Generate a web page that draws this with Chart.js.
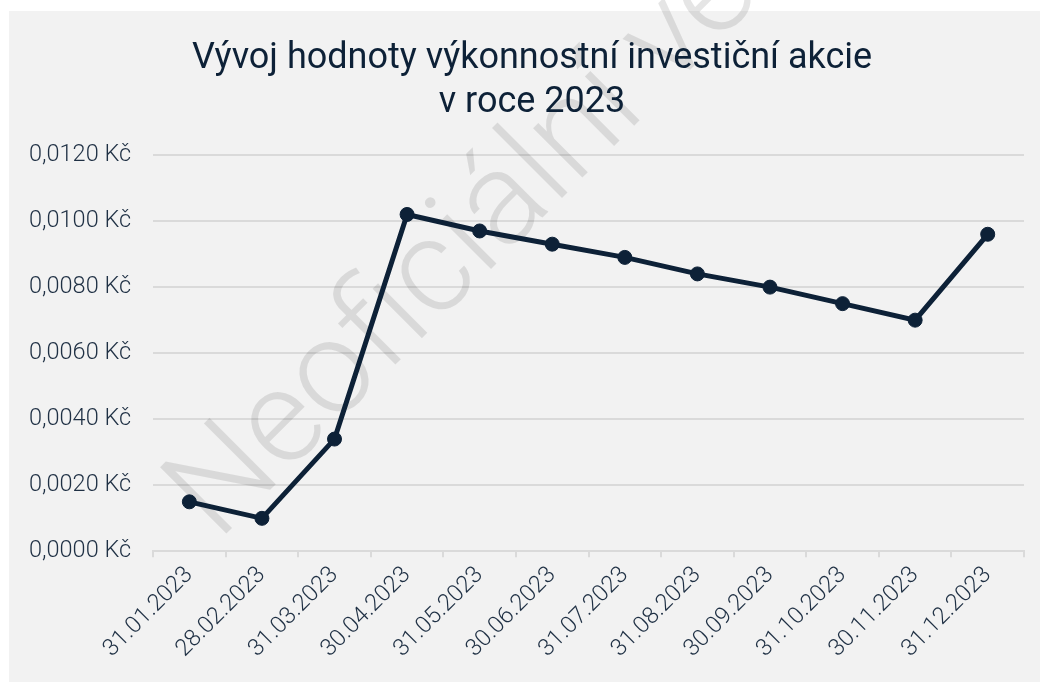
<!DOCTYPE html>
<html>
<head>
<meta charset="utf-8">
<script src="https://cdn.jsdelivr.net/npm/chart.js@4.4.0/dist/chart.umd.min.js"></script>
<style>
  html, body { margin: 0; padding: 0; background: #ffffff; }
  #wrap { position: relative; width: 1040px; height: 682px; }
</style>
</head>
<body>
<div id="wrap"><canvas id="c" width="1040" height="682"></canvas></div>
<script>
const categories = ['31.01.2023', '28.02.2023', '31.03.2023', '30.04.2023', '31.05.2023', '30.06.2023',
                    '31.07.2023', '31.08.2023', '30.09.2023', '31.10.2023', '30.11.2023', '31.12.2023'];
const values = [0.0015, 0.0010, 0.0034, 0.0102, 0.0097, 0.0093, 0.0089, 0.0084, 0.0080, 0.0075, 0.0070, 0.0096];
const yTickLabels = ['0,0000 Kč', '0,0020 Kč', '0,0040 Kč', '0,0060 Kč', '0,0080 Kč', '0,0100 Kč', '0,0120 Kč'];
const titleLines = ['Vývoj hodnoty výkonnostní investiční akcie', 'v roce 2023'];
const watermarkText = 'Neoficiální verze';

const NAVY = '#0d2137';
const TICK = '#1f3044';
const GRID = '#dadada';

const backgroundPlugin = {
  id: 'bg',
  beforeDraw(chart) {
    const ctx = chart.ctx;
    ctx.save();
    ctx.fillStyle = '#ffffff';
    ctx.fillRect(0, 0, chart.width, chart.height);
    ctx.fillStyle = '#f2f2f2';
    ctx.fillRect(9, 11, chart.width - 9, chart.height - 11);
    ctx.restore();
  }
};

const titlePlugin = {
  id: 'customTitle',
  beforeDatasetsDraw(chart) {
    const ctx = chart.ctx;
    ctx.save();
    ctx.font = '400 36px Roboto';
    ctx.fillStyle = NAVY;
    ctx.textAlign = 'center';
    ctx.textBaseline = 'alphabetic';
    ctx.fillText(titleLines[0], 532, 68);
    ctx.fillText(titleLines[1], 532, 112);
    ctx.restore();
  }
};

const watermarkPlugin = {
  id: 'watermark',
  beforeDatasetsDraw(chart) {
    const ctx = chart.ctx;
    ctx.save();
    ctx.translate(218, 542);
    ctx.rotate(-Math.PI / 4);
    ctx.font = '300 132px Roboto';
    ctx.fillStyle = 'rgba(0,0,0,0.1)';
    ctx.textAlign = 'left';
    ctx.textBaseline = 'alphabetic';
    ctx.fillText(watermarkText, 0, 0);
    ctx.restore();
  }
};

new Chart(document.getElementById('c'), {
  type: 'line',
  data: {
    labels: categories,
    datasets: [{
      data: values,
      borderColor: NAVY,
      backgroundColor: NAVY,
      borderWidth: 5,
      pointRadius: 7,
      pointBackgroundColor: NAVY,
      pointBorderColor: NAVY,
      pointBorderWidth: 1,
      tension: 0,
      fill: false
    }]
  },
  options: {
    responsive: false,
    animation: false,
    layout: { padding: { left: 7, right: 16, top: 155, bottom: 15 } },
    plugins: {
      legend: { display: false },
      tooltip: { enabled: false },
      title: { display: false }
    },
    scales: {
      x: {
        type: 'category',
        offset: true,
        grid: { offset: true, drawOnChartArea: false, drawTicks: true, tickLength: 6, color: GRID, lineWidth: 2 },
        border: { display: true, color: GRID, width: 2 },
        ticks: {
          autoSkip: false, minRotation: 45, maxRotation: 45, padding: 4,
          color: TICK, font: { family: 'Roboto', size: 23.5, weight: 300 }
        }
      },
      y: {
        min: 0, max: 0.012,
        grid: { drawTicks: false, color: GRID, lineWidth: 2 },
        border: { display: false },
        ticks: {
          stepSize: 0.002, padding: 22, color: TICK,
          font: { family: 'Roboto', size: 23.5, weight: 300 },
          callback: (v, i) => yTickLabels[i]
        }
      }
    }
  },
  plugins: [backgroundPlugin, watermarkPlugin, titlePlugin]
});
</script>
</body>
</html>
